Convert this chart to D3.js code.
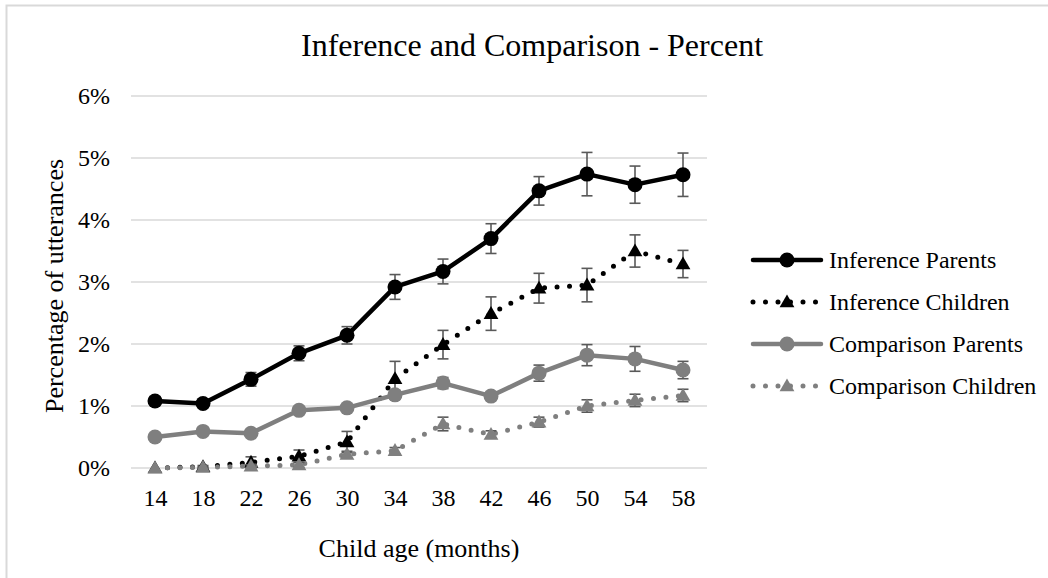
<!DOCTYPE html>
<html>
<head>
<meta charset="utf-8">
<script src="https://cdn.jsdelivr.net/npm/d3@7"></script>
<style>
    body { margin: 0; background: #fff; }
    svg text { font-family: "Liberation Serif", "Times New Roman", serif; fill: #000; }
</style>
</head>
<body>
<div id="chart"></div>
<script>
'use strict';

const ages = [14, 18, 22, 26, 30, 34, 38, 42, 46, 50, 54, 58];
const yTicks = [0, 1, 2, 3, 4, 5, 6];

// percent values and error bar half-lengths
const infParents      = [1.08, 1.04, 1.43, 1.85, 2.14, 2.92, 3.17, 3.70, 4.47, 4.74, 4.57, 4.73];
const infParentsErr   = [0.07, 0.06, 0.11, 0.12, 0.14, 0.20, 0.20, 0.24, 0.23, 0.35, 0.30, 0.35];
const infChildren     = [0.00, 0.02, 0.09, 0.19, 0.42, 1.44, 1.99, 2.49, 2.90, 2.95, 3.50, 3.29];
const infChildrenErr  = [0.00, 0.02, 0.09, 0.10, 0.17, 0.28, 0.23, 0.27, 0.24, 0.27, 0.26, 0.22];
const cmpParents      = [0.50, 0.59, 0.56, 0.93, 0.97, 1.18, 1.37, 1.16, 1.53, 1.82, 1.76, 1.58];
const cmpParentsErr   = [0.03, 0.03, 0.04, 0.05, 0.05, 0.07, 0.09, 0.06, 0.13, 0.17, 0.20, 0.14];
const cmpChildren     = [0.00, 0.01, 0.03, 0.05, 0.22, 0.28, 0.71, 0.54, 0.74, 1.00, 1.09, 1.17];
const cmpChildrenErr  = [0.00, 0.01, 0.02, 0.04, 0.05, 0.05, 0.11, 0.06, 0.08, 0.10, 0.10, 0.10];

const seriesNames = ['Inference Parents', 'Inference Children', 'Comparison Parents', 'Comparison Children'];

const series = [
    { name: seriesNames[0], values: infParents,  err: infParentsErr,  color: '#000000', dotted: false, shape: 'circle' },
    { name: seriesNames[1], values: infChildren, err: infChildrenErr, color: '#000000', dotted: true,  shape: 'triangle' },
    { name: seriesNames[2], values: cmpParents,  err: cmpParentsErr,  color: '#7f7f7f', dotted: false, shape: 'circle' },
    { name: seriesNames[3], values: cmpChildren, err: cmpChildrenErr, color: '#7f7f7f', dotted: true,  shape: 'triangle' }
];

const width = 1048, height = 578;
const plot = { left: 131, right: 707, top: 96, bottom: 468 };

const svg = d3.select('#chart')
    .append('svg')
    .attr('width', width)
    .attr('height', height);

// chart area border (only top/left edges fall inside the picture)
svg.append('rect')
    .attr('x', 6.5).attr('y', 5.5)
    .attr('width', width + 20).attr('height', height + 20)
    .attr('fill', '#fff')
    .attr('stroke', '#d9d9d9')
    .attr('stroke-width', 2);

const xScale = d3.scalePoint().domain(ages).range([plot.left, plot.right]).padding(0.5);
const yScale = d3.scaleLinear().domain([0, 6]).range([plot.bottom, plot.top]);

// gridlines
svg.append('g')
    .selectAll('line')
    .data(yTicks)
    .enter()
    .append('line')
    .attr('x1', plot.left).attr('x2', plot.right)
    .attr('y1', d => yScale(d)).attr('y2', d => yScale(d))
    .attr('stroke', '#d9d9d9')
    .attr('stroke-width', 1.5);

// axes (labels only, no domain / ticks)
const yAxis = d3.axisLeft(yScale).tickValues(yTicks).tickFormat(d => d + '%').tickSize(0).tickPadding(21);
svg.append('g')
    .attr('transform', `translate(${plot.left},0)`)
    .call(yAxis)
    .call(g => g.select('.domain').remove())
    .selectAll('text')
    .attr('font-size', 24)
    .attr('font-family', '"Liberation Serif", serif');

const xAxis = d3.axisBottom(xScale).tickSize(0).tickPadding(21);
svg.append('g')
    .attr('transform', `translate(0,${plot.bottom})`)
    .call(xAxis)
    .call(g => g.select('.domain').remove())
    .selectAll('text')
    .attr('font-size', 24)
    .attr('font-family', '"Liberation Serif", serif');

// titles
svg.append('text')
    .attr('x', 532).attr('y', 56)
    .attr('text-anchor', 'middle')
    .attr('font-size', 32)
    .text('Inference and Comparison - Percent');

svg.append('text')
    .attr('transform', 'translate(63,286) rotate(-90)')
    .attr('text-anchor', 'middle')
    .attr('font-size', 26)
    .text('Percentage of utterances');

svg.append('text')
    .attr('x', 419).attr('y', 557)
    .attr('text-anchor', 'middle')
    .attr('font-size', 26)
    .text('Child age (months)');

const triangle = d3.symbol().type(d3.symbolTriangle).size(95);

function drawMarker (g, s, x, y)
{
    if (s.shape === 'circle')
    {
        g.append('circle')
            .attr('cx', x).attr('cy', y).attr('r', 7.5)
            .attr('fill', s.color);
    }
    else
    {
        g.append('path')
            .attr('d', triangle())
            .attr('transform', `translate(${x},${y + 1})`)
            .attr('fill', s.color);
    }
}

function lineStyle (sel, s)
{
    sel.attr('fill', 'none')
        .attr('stroke', s.color)
        .attr('stroke-width', s.dotted ? 5 : 4.5)
        .attr('stroke-linecap', 'round')
        .attr('stroke-linejoin', 'round')
        .attr('stroke-dasharray', s.dotted ? '0 12.5' : null);
}

const line = d3.line()
    .x((d, i) => xScale(ages[i]))
    .y(d => yScale(d));

series.forEach(s =>
{
    let g = svg.append('g');

    g.append('path')
        .datum(s.values)
        .attr('d', line)
        .call(lineStyle, s);

    // error bars
    let eb = g.append('g')
        .attr('stroke', '#595959')
        .attr('stroke-width', 1.6);

    s.values.forEach((v, i) =>
    {
        let e = s.err[i];
        if (e <= 0) return;
        let x = xScale(ages[i]), y0 = yScale(v - e), y1 = yScale(v + e);
        eb.append('line').attr('x1', x).attr('x2', x).attr('y1', y0).attr('y2', y1);
        eb.append('line').attr('x1', x - 5.5).attr('x2', x + 5.5).attr('y1', y0).attr('y2', y0);
        eb.append('line').attr('x1', x - 5.5).attr('x2', x + 5.5).attr('y1', y1).attr('y2', y1);
    });

    s.values.forEach((v, i) => drawMarker(g, s, xScale(ages[i]), yScale(v)));
});

// legend
const legendRow = d3.scalePoint().domain(seriesNames).range([260, 386]);

series.forEach(s =>
{
    let y = legendRow(s.name);
    let g = svg.append('g');

    g.append('line')
        .attr('x1', 753).attr('x2', 821)
        .attr('y1', y).attr('y2', y)
        .call(lineStyle, s);

    drawMarker(g, s, 787, y);

    g.append('text')
        .attr('x', 829).attr('y', y)
        .attr('dy', '0.33em')
        .attr('font-size', 24)
        .text(s.name);
});
</script>
</body>
</html>
